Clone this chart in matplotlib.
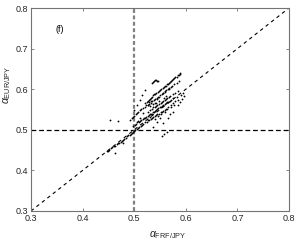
import numpy as np
import matplotlib
matplotlib.use("Agg")
import matplotlib.pyplot as plt

plt.rcParams['font.family'] = ['Liberation Sans', 'DejaVu Sans']
plt.rcParams['mathtext.fontset'] = 'custom'
plt.rcParams['mathtext.rm'] = 'Liberation Sans'
plt.rcParams['mathtext.it'] = 'Liberation Sans:italic'
plt.rcParams['lines.scale_dashes'] = False

# estimated (alpha_FRF/JPY, alpha_EUR/JPY) pairs read off the cloud
low_x = [0.447, 0.450, 0.452, 0.455, 0.457, 0.460, 0.463, 0.466, 0.468, 0.471, 0.474, 0.476,
         0.478, 0.481, 0.484, 0.486, 0.488, 0.491, 0.493, 0.495, 0.497, 0.500, 0.502, 0.505,
         0.508, 0.510, 0.513, 0.516, 0.518, 0.521, 0.524, 0.527, 0.529, 0.532, 0.535, 0.537,
         0.540, 0.543, 0.545, 0.548, 0.551, 0.553, 0.556, 0.559, 0.561, 0.566, 0.571, 0.576,
         0.580]
low_y = [0.447, 0.448, 0.451, 0.454, 0.457, 0.459, 0.461, 0.464, 0.467, 0.468, 0.470, 0.473,
         0.476, 0.478, 0.480, 0.484, 0.487, 0.488, 0.489, 0.492, 0.495, 0.497, 0.499, 0.503,
         0.505, 0.507, 0.510, 0.512, 0.514, 0.518, 0.520, 0.523, 0.525, 0.527, 0.530, 0.532,
         0.533, 0.536, 0.538, 0.540, 0.543, 0.544, 0.546, 0.549, 0.551, 0.556, 0.561, 0.567,
         0.570]

mid_x = [0.498, 0.501, 0.503, 0.506, 0.509, 0.511, 0.514, 0.517, 0.519, 0.521, 0.523, 0.526,
         0.528, 0.531, 0.533, 0.536, 0.538, 0.540, 0.542, 0.545, 0.547, 0.550, 0.552, 0.554,
         0.556, 0.559, 0.561, 0.564, 0.566, 0.569, 0.571, 0.576, 0.582]
mid_y = [0.510, 0.513, 0.514, 0.518, 0.520, 0.521, 0.523, 0.527, 0.528, 0.530, 0.531, 0.535,
         0.536, 0.539, 0.540, 0.544, 0.545, 0.546, 0.548, 0.551, 0.553, 0.556, 0.557, 0.559,
         0.561, 0.564, 0.565, 0.568, 0.569, 0.572, 0.573, 0.578, 0.582]

band3_x = [0.492, 0.495, 0.497, 0.500, 0.503, 0.505, 0.508, 0.511, 0.514, 0.517, 0.520, 0.523,
           0.526, 0.531, 0.534, 0.537, 0.540, 0.542, 0.545, 0.548, 0.551, 0.553, 0.556, 0.559,
           0.562, 0.564, 0.567, 0.570, 0.575, 0.580, 0.585]
band3_y = [0.524, 0.528, 0.531, 0.535, 0.538, 0.541, 0.545, 0.548, 0.551, 0.554, 0.557, 0.560,
           0.562, 0.549, 0.552, 0.555, 0.557, 0.559, 0.562, 0.564, 0.566, 0.568, 0.571, 0.573,
           0.576, 0.578, 0.581, 0.583, 0.587, 0.591, 0.595]

band4_x = [0.526, 0.529, 0.532, 0.535, 0.538, 0.541, 0.544, 0.547, 0.550, 0.553, 0.556, 0.559,
           0.562, 0.565, 0.568, 0.571, 0.574, 0.578, 0.582, 0.586]
band4_y = [0.560, 0.564, 0.567, 0.570, 0.573, 0.576, 0.579, 0.582, 0.585, 0.588, 0.591, 0.594,
           0.597, 0.600, 0.603, 0.606, 0.609, 0.612, 0.616, 0.619]

top_x = [0.521, 0.524, 0.526, 0.528, 0.530, 0.532, 0.534, 0.537, 0.539, 0.541, 0.543, 0.546,
         0.548, 0.550, 0.552, 0.555, 0.557, 0.559, 0.561, 0.564, 0.566, 0.568, 0.570, 0.572,
         0.574, 0.576, 0.578, 0.580, 0.582, 0.584, 0.586, 0.588, 0.589]
top_y = [0.565, 0.569, 0.571, 0.574, 0.577, 0.579, 0.581, 0.585, 0.587, 0.589, 0.591, 0.594,
         0.596, 0.598, 0.600, 0.603, 0.605, 0.607, 0.609, 0.612, 0.614, 0.616, 0.618, 0.620,
         0.622, 0.625, 0.627, 0.629, 0.631, 0.634, 0.636, 0.638, 0.640]

extra_x = [0.534, 0.536, 0.538, 0.540, 0.542, 0.544, 0.546, 0.500, 0.505, 0.511, 0.515, 0.521,
           0.537, 0.545, 0.556, 0.554, 0.558, 0.563, 0.550, 0.565, 0.570, 0.575, 0.453, 0.469,
           0.463, 0.478, 0.528, 0.533, 0.540, 0.536, 0.531, 0.544, 0.549, 0.555, 0.560, 0.568,
           0.526, 0.518, 0.541, 0.547, 0.552, 0.559, 0.564, 0.572, 0.578, 0.584, 0.530, 0.535,
           0.512, 0.507, 0.543, 0.549, 0.557, 0.562, 0.590, 0.595, 0.597, 0.593, 0.588, 0.584]
extra_y = [0.615, 0.618, 0.620, 0.622, 0.622, 0.621, 0.619, 0.549, 0.560, 0.574, 0.585, 0.598,
           0.508, 0.520, 0.516, 0.485, 0.490, 0.495, 0.530, 0.530, 0.540, 0.545, 0.524, 0.521,
           0.444, 0.468, 0.569, 0.572, 0.566, 0.563, 0.558, 0.575, 0.582, 0.590, 0.596, 0.600,
           0.545, 0.541, 0.527, 0.534, 0.538, 0.545, 0.551, 0.556, 0.561, 0.574, 0.531, 0.539,
           0.530, 0.522, 0.566, 0.571, 0.579, 0.584, 0.585, 0.590, 0.583, 0.575, 0.568, 0.560]

ticks = [0.3, 0.4, 0.5, 0.6, 0.7, 0.8]

fig = plt.figure(figsize=(2.99, 2.40), dpi=100)
ax = fig.add_axes([31 / 299, 29 / 240, 258 / 299, 203 / 240])

ax.plot([0.3, 0.8], [0.3, 0.8], color='k', lw=0.8, dashes=(2.5, 2.5))
ax.plot([0.3, 0.8], [0.5, 0.5], color='k', lw=0.9, dashes=(3.5, 2))
ax.plot([0.5, 0.5], [0.3, 0.8], color='0.5', lw=1.6, dashes=(2.8, 1.8))

for xs, ys in [(low_x, low_y), (mid_x, mid_y), (band3_x, band3_y), (band4_x, band4_y),
               (top_x, top_y), (extra_x, extra_y)]:
    ax.plot(xs, ys, ls='none', marker='.', ms=2.6, color='k', mew=0)

ax.text(0.356, 0.748, '(f)', fontsize=6.5, ha='center', va='center')

ax.set_xlim(0.3, 0.8)
ax.set_ylim(0.3, 0.8)
ax.set_xticks(ticks)
ax.set_yticks(ticks)
ax.set_xticklabels([str(t) for t in ticks])
ax.set_yticklabels([str(t) for t in ticks])
ax.tick_params(direction='in', length=2.5, width=0.6, labelsize=6.5, pad=2,
               top=True, right=True, colors='0.45', labelcolor='0.15')
for s in ax.spines.values():
    s.set_color('0.45')
    s.set_linewidth(0.8)

ax.set_xlabel(r'$\alpha_{\mathrm{FRF/JPY}}$', fontsize=7.5, color='0.15')
ax.set_ylabel(r'$\alpha_{\mathrm{EUR/JPY}}$', fontsize=7.5, color='0.15')
ax.xaxis.set_label_coords(0.53, -0.09)
ax.yaxis.set_label_coords(-0.07, 0.62)

fig.savefig('out.png', dpi=100)
